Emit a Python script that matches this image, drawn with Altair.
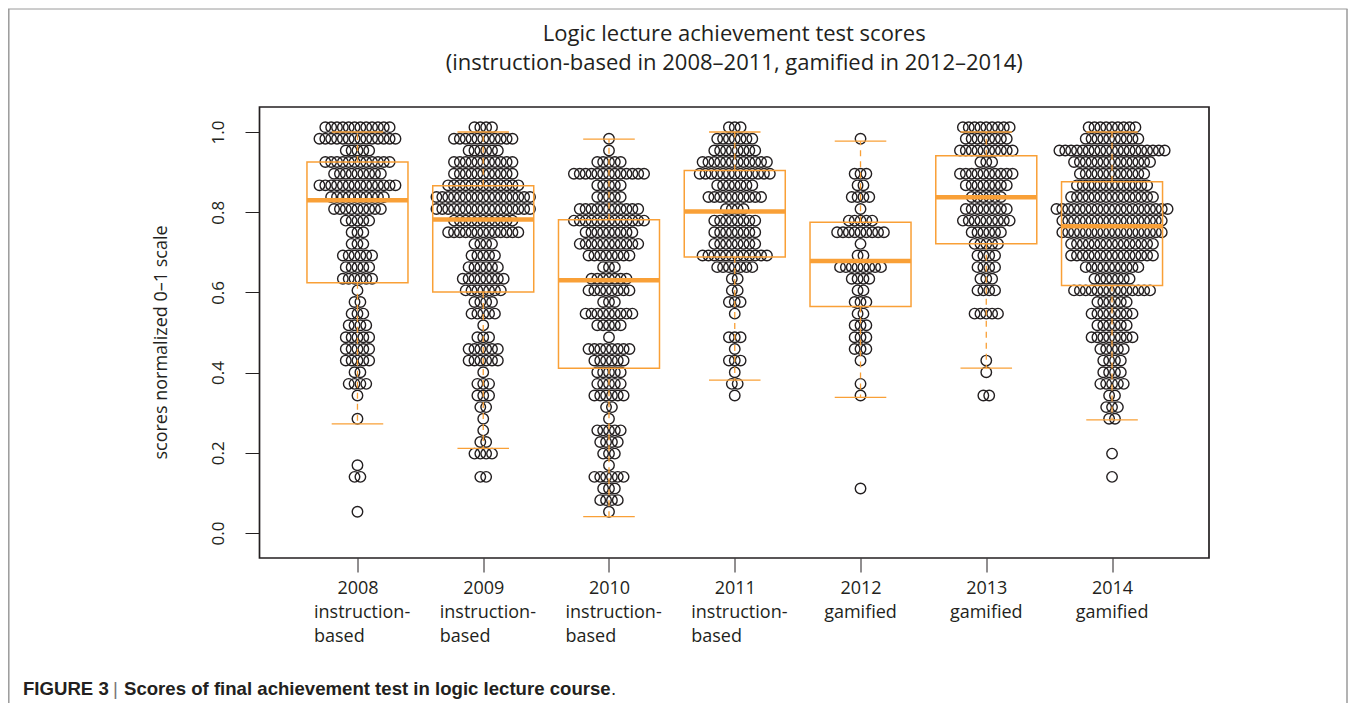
import altair as alt
import pandas as pd

years = [2008, 2009, 2010, 2011, 2012, 2013, 2014]

# score level of each swarm row, top to bottom
levels = [1.012, 0.983, 0.954, 0.925, 0.896, 0.867, 0.838, 0.808, 0.779, 0.750, 0.721, 0.692,
          0.663, 0.634, 0.605, 0.576, 0.547, 0.518, 0.488, 0.459, 0.430, 0.401, 0.372, 0.343,
          0.314, 0.285, 0.256, 0.227, 0.198, 0.169, 0.140, 0.111, 0.082, 0.053]

# number of students per level
counts_2008 = [12, 14, 5, 12, 9, 14, 10, 9, 5, 3, 3, 6, 5, 6, 1, 2, 3, 4, 5, 5, 5, 2, 4, 1, 0, 1, 0, 0, 0, 1, 2, 0, 0, 1]
counts_2009 = [4, 11, 6, 11, 11, 13, 17, 17, 11, 13, 4, 5, 6, 8, 7, 4, 5, 1, 3, 6, 6, 1, 3, 3, 2, 1, 1, 2, 4, 0, 2, 0, 0, 0]
counts_2010 = [0, 1, 1, 5, 13, 5, 5, 11, 13, 9, 11, 8, 3, 7, 8, 3, 9, 5, 1, 8, 6, 5, 5, 6, 2, 1, 5, 4, 3, 1, 6, 3, 4, 1]
counts_2011 = [3, 7, 8, 12, 13, 7, 10, 4, 8, 8, 8, 12, 7, 2, 2, 3, 1, 0, 3, 1, 3, 1, 2, 1, 0, 0, 0, 0, 0, 0, 0, 0, 0, 0]
counts_2012 = [0, 1, 0, 0, 3, 2, 4, 1, 5, 9, 1, 2, 8, 4, 2, 3, 2, 3, 3, 3, 1, 0, 1, 1, 0, 0, 0, 0, 0, 0, 0, 1, 0, 0]
counts_2013 = [9, 8, 10, 3, 10, 8, 6, 8, 9, 6, 5, 4, 4, 3, 4, 0, 5, 0, 0, 0, 1, 1, 0, 2, 0, 0, 0, 0, 0, 0, 0, 0, 0, 0]
counts_2014 = [9, 10, 19, 14, 12, 13, 15, 20, 18, 18, 15, 15, 10, 7, 14, 6, 8, 6, 8, 5, 4, 4, 5, 2, 3, 2, 0, 0, 1, 0, 1, 0, 0, 0]
all_counts = [counts_2008, counts_2009, counts_2010, counts_2011, counts_2012, counts_2013, counts_2014]

box_top = [0.925, 0.866, 0.781, 0.904, 0.775, 0.941, 0.876]
box_bottom = [0.624, 0.601, 0.411, 0.688, 0.565, 0.721, 0.617]
medians = [0.830, 0.782, 0.630, 0.802, 0.678, 0.837, 0.765]
whisker_top = [1.0, 1.0, 0.982, 1.0, 0.977, 1.0, 1.0]
whisker_bottom = [0.272, 0.211, 0.041, 0.381, 0.338, 0.411, 0.282]

line2 = ["instruction-", "instruction-", "instruction-", "instruction-", "gamified", "gamified", "gamified"]
line3 = ["based", "based", "based", "based", "", "", ""]

title_lines = ["Logic lecture achievement test scores",
               "(instruction-based in 2008\u20132011, gamified in 2012\u20132014)"]
y_title = "scores normalized 0\u20131 scale"

DOT_STEP = 0.0465   # swarm step along x, in years
BOX_HALF = 0.4016
CAP_HALF = 0.205

ORANGE = "#F9A037"
INK = "#231F20"
FONT = "Open Sans"
TS = 18

rows = []
for yr, counts in zip(years, all_counts):
    for lev, n in zip(levels, counts):
        for i in range(n):
            rows.append({"x": yr + (i - (n - 1) / 2) * DOT_STEP, "score": lev})
dots = pd.DataFrame(rows)

stats = pd.DataFrame({
    "year": years, "top": box_top, "bottom": box_bottom, "median": medians,
    "wt": whisker_top, "wb": whisker_bottom, "l2": line2, "l3": line3,
})
stats["left"] = stats["year"] - BOX_HALF
stats["right"] = stats["year"] + BOX_HALF
stats["cl"] = stats["year"] - CAP_HALF
stats["cr"] = stats["year"] + CAP_HALF

xs = alt.Scale(domain=[2008 - 0.779, 2008 + 6.771], nice=False, zero=False)
ys = alt.Scale(domain=[-0.0623, 1.0623], nice=False, zero=False)

ax_x = alt.Axis(
    values=years, format="d", title=None, grid=False, domain=False, tickSize=14,
    tickColor=INK, tickWidth=1, labelFont=FONT, labelFontSize=TS, labelColor=INK,
    labelPadding=7, labelOverlap=False)
ax_y = alt.Axis(
    values=[0, 0.2, 0.4, 0.6, 0.8, 1.0], format=".1f", title=y_title, grid=False, domain=False,
    tickSize=14.5, tickColor=INK, tickWidth=1, labelFont=FONT, labelFontSize=17, labelColor=INK,
    labelAngle=270, labelAlign="center", labelBaseline="middle", labelPadding=27,
    titleFont=FONT, titleFontSize=18, titleFontWeight="normal", titleColor=INK, titlePadding=39,
    titleY=235)

xa = lambda f: alt.X(f + ":Q", scale=xs, axis=ax_x)
ya = lambda f: alt.Y(f + ":Q", scale=ys, axis=ax_y)

swarm = alt.Chart(dots).mark_point(shape="circle", filled=False, size=110, stroke=INK, strokeWidth=1.4, opacity=1).encode(x=xa("x"), y=ya("score"))

base = alt.Chart(stats)

whisk_up = base.mark_rule(color=ORANGE, strokeWidth=1.3, strokeDash=[6, 5]).encode(x=xa("year"), y=ya("top"), y2="wt:Q")
whisk_dn = base.mark_rule(color=ORANGE, strokeWidth=1.3, strokeDash=[6, 5]).encode(x=xa("year"), y=ya("bottom"), y2="wb:Q")
cap_up = base.mark_rule(color=ORANGE, strokeWidth=1.3).encode(x=xa("cl"), x2="cr:Q", y=ya("wt"))
cap_dn = base.mark_rule(color=ORANGE, strokeWidth=1.3).encode(x=xa("cl"), x2="cr:Q", y=ya("wb"))
box = base.mark_rect(fillOpacity=0, stroke=ORANGE, strokeWidth=1.5).encode(x=xa("left"), x2="right:Q", y=ya("top"), y2="bottom:Q")
med = base.mark_rule(color=ORANGE, strokeWidth=4.5).encode(x=xa("left"), x2="right:Q", y=ya("median"))

lab2 = base.mark_text(font=FONT, fontSize=TS, color=INK, align="center", baseline="middle").transform_filter("datum.l3 == ''").encode(
    x=xa("year"), y=alt.value(505.5), text="l2:N")
lab2b = base.mark_text(font=FONT, fontSize=TS, color=INK, align="left", baseline="middle", dx=-43.5).transform_filter("datum.l3 != ''").encode(
    x=xa("year"), y=alt.value(505.5), text="l2:N")
lab3 = base.mark_text(font=FONT, fontSize=TS, color=INK, align="left", baseline="middle", dx=-43.5).transform_filter("datum.l3 != ''").encode(
    x=xa("year"), y=alt.value(529.5), text="l3:N")

PX = 251.5
PY = 99
gray = "#9A9A9A"
def hline(x1, x2, y):
    return alt.Chart(pd.DataFrame({"a": [0]})).mark_rule(color=gray, strokeWidth=1).encode(
        x=alt.value(x1 - 259.5), x2=alt.value(x2 - 259.5), y=alt.value(y - 107))
def vline(x, y1, y2):
    return alt.Chart(pd.DataFrame({"a": [0]})).mark_rule(color=gray, strokeWidth=1.5).encode(
        x=alt.value(x - 259.5), y=alt.value(y1 - 107), y2=alt.value(y2 - 107))

def cap(text, x, weight, color=INK):
    return alt.Chart(pd.DataFrame({"t": [text]})).mark_text(
        font="Liberation Sans", fontSize=18.6, fontWeight=weight, color=color, align="left", baseline="alphabetic"
    ).encode(x=alt.value(x - 259.5), y=alt.value(695 - 107), text="t:N")

layers = [swarm, whisk_up, whisk_dn, cap_up, cap_dn, box, med, lab2, lab2b, lab3,
          hline(8, 1347.5, 9), vline(8.8, 9, 703), vline(1347, 9, 703),
          cap("FIGURE 3", 23, "bold"), cap("|", 113, "normal", "#777777"),
          cap("Scores of final achievement test in logic lecture course", 124, "bold"),
          cap(".", 611, "normal")]

chart = alt.layer(*layers).properties(
    width=949.5, height=451,
    padding={"left": PX, "top": PY, "right": 139, "bottom": 145},
    autosize=alt.AutoSizeParams(type="none"),
    background="white",
    title=alt.TitleParams(text=title_lines, font=FONT, fontSize=22, fontWeight="normal", color=INK,
                          anchor="middle", lineHeight=29, offset=-67),
).configure_view(stroke=INK, strokeWidth=1.7)

chart.save("out.html", embed_options={"renderer": "svg", "actions": False})
